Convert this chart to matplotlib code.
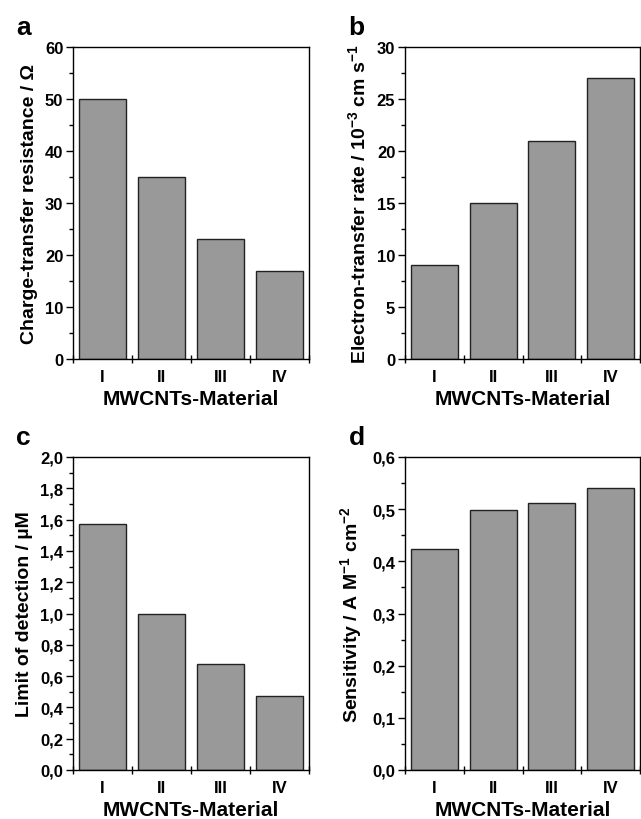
import numpy as np
import matplotlib
matplotlib.use("Agg")
import matplotlib.pyplot as plt
from matplotlib.ticker import MultipleLocator, FixedLocator

plt.rcParams['font.family'] = ['Liberation Sans', 'DejaVu Sans']
plt.rcParams['font.weight'] = 'bold'
plt.rcParams['mathtext.fontset'] = 'custom'
plt.rcParams['mathtext.bf'] = 'Liberation Sans:bold'
plt.rcParams['mathtext.rm'] = 'Liberation Sans:bold'

materials = ["I", "II", "III", "IV"]
charge_transfer = [50, 35, 23, 17]
electron_rate = [9, 15, 21, 27]
detection_limit = [1.57, 1.0, 0.68, 0.47]
sensitivity = [0.423, 0.499, 0.512, 0.54]

fig = plt.figure(figsize=(6.41, 8.20), dpi=100)
W, H = 641, 820

def make_axes(left, top, right, bottom):
    return fig.add_axes([left / W, 1 - bottom / H, (right - left) / W, (bottom - top) / H])

def draw_panel(ax, values, ymax, major, minor, ndec, ylabel, letter):
    x = np.arange(1, len(values) + 1)
    ax.bar(x, values, width=0.8, color="#999999", edgecolor="#222222", linewidth=1.0)
    ax.set_xlim(0.5, len(values) + 0.5)
    ax.set_ylim(0, ymax)
    ax.xaxis.set_major_locator(FixedLocator(x))
    ax.set_xticklabels(materials)
    ax.xaxis.set_minor_locator(FixedLocator(np.arange(0.5, len(values) + 1, 1.0)))
    ax.tick_params(axis='x', which='major', length=0, pad=7, labelsize=12)
    ax.tick_params(axis='x', which='minor', direction='inout', length=6, width=1)
    ax.yaxis.set_major_locator(MultipleLocator(major))
    ax.yaxis.set_minor_locator(MultipleLocator(minor))
    ax.yaxis.set_major_formatter(lambda v, pos: f"{v:.{ndec}f}".replace(".", ","))
    ax.tick_params(axis='y', which='major', direction='out', length=5, width=1, labelsize=12, pad=2)
    ax.tick_params(axis='y', which='minor', direction='out', length=3, width=1)
    for s in ax.spines.values():
        s.set_linewidth(1.0)
    ax.set_xlabel("MWCNTs-Material", fontsize=15, fontweight='bold', labelpad=4)
    ax.set_ylabel(ylabel, fontsize=14, fontweight='bold', labelpad=5)
    ax.text(-0.24, 1.025, letter, transform=ax.transAxes, fontsize=19, fontweight='bold', va='bottom')

ax_a = make_axes(73, 48, 309, 360)
draw_panel(ax_a, charge_transfer, 60, 10, 5, 0, "Charge-transfer resistance / Ω", "a")

ax_b = make_axes(405, 48, 640, 360)
draw_panel(ax_b, electron_rate, 30, 5, 2.5, 0,
           r"Electron-transfer rate / 10$^{\mathregular{-3}}$ cm s$^{\mathregular{-1}}$", "b")

ax_c = make_axes(73, 458, 309, 771)
draw_panel(ax_c, detection_limit, 2.0, 0.2, 0.1, 1, "Limit of detection / µM", "c")

ax_d = make_axes(405, 458, 640, 771)
draw_panel(ax_d, sensitivity, 0.6, 0.1, 0.05, 1,
           r"Sensitivity / A M$^{\mathregular{-1}}$ cm$^{\mathregular{-2}}$", "d")

fig.savefig("out.png", dpi=100)
